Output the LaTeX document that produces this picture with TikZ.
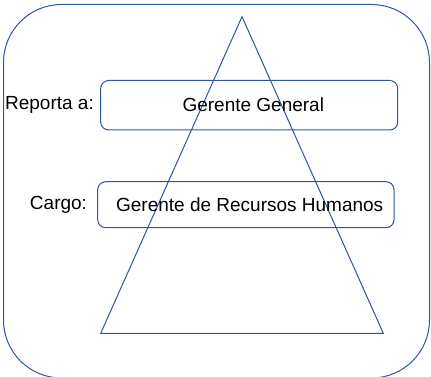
\documentclass[tikz,border=0pt]{standalone}
\usepackage{fontspec}
\setmainfont{Liberation Sans}
\definecolor{lineblue}{RGB}{47,85,160}
\begin{document}
\begin{tikzpicture}[x=1pt,y=-1pt,
  edge/.style={draw=lineblue,line width=1pt},
  field/.style={edge,rounded corners=8pt},
  lbl/.style={font=\fontsize{19}{22}\selectfont,inner sep=0pt}]
\useasboundingbox (0,0) rectangle (431,377);
\draw[edge,rounded corners=58pt] (3.5,4.5) rectangle (429.5,378);
\coordinate (apex) at (242,16.7);
\coordinate (bl) at (100.7,333.3);
\coordinate (br) at (383.3,333.3);
\draw[edge,line join=miter] (apex) -- (bl) -- (br) -- cycle;
\draw[field] (100.7,80.5) rectangle (397.7,130);
\draw[field] (97.7,181.7) rectangle (394,227.7);
\node[lbl] (gg) at (253.3,104.5) {Gerente General};
\node[lbl] (grh) at (249.7,204.5) {Gerente de Recursos Humanos};
\node[lbl] (rep) at (49.5,104.5) {Reporta a:};
\node[lbl] (car) at (58.5,204.5) {Cargo:};
\end{tikzpicture}
\end{document}
